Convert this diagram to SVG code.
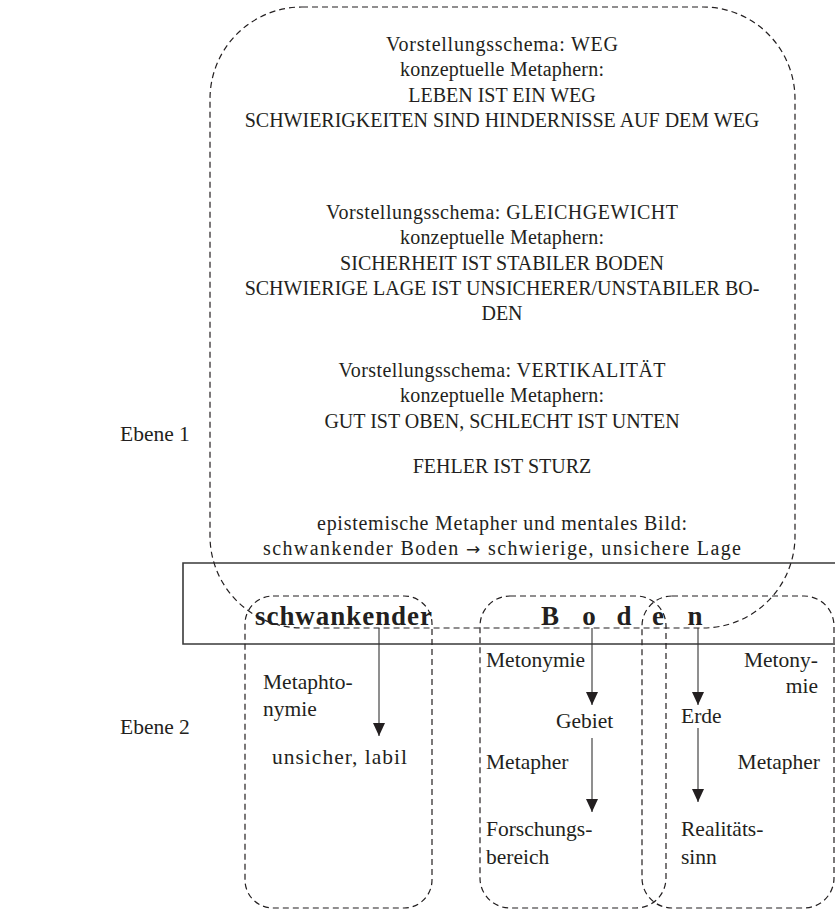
<svg xmlns="http://www.w3.org/2000/svg" width="835" height="909" viewBox="0 0 835 909">
  <style>
    text { font-family: "Liberation Serif", "Times New Roman", serif; fill: #231f20; }
    .t { font-size: 20px; text-anchor: middle; }
    .lbl { font-size: 21.5px; }
    .side { font-size: 21.5px; }
    .word { font-size: 27px; font-weight: bold; }
    .sym { font-family: "DejaVu Sans", sans-serif; font-size: 17px; }
    .dash { fill: none; stroke: #231f20; stroke-width: 1.2; stroke-dasharray: 6 4; }
    .frame { fill: none; stroke: #3a3a3a; stroke-width: 1.6; }
    .arrow { stroke: #333; stroke-width: 1.1; fill: none; marker-end: url(#head); }
  </style>
  <defs>
    <!-- filled triangular arrowhead, tip at the end of the line -->
    <marker id="head" markerUnits="userSpaceOnUse" markerWidth="13" markerHeight="12" viewBox="0 0 13 12" refX="13" refY="6" orient="auto">
      <path d="M0,0 L13,6 L0,12 Z" fill="#231f20"/>
    </marker>
  </defs>

  <rect width="835" height="909" fill="#ffffff"/>

  <!-- level labels -->
  <g id="levels">
    <text class="side" x="120" y="441">Ebene 1</text>
    <text class="side" x="120" y="734">Ebene 2</text>
  </g>

  <!-- word row frame -->
  <g id="word-frame">
    <path class="frame" d="M840,563 L183,563 L183,644 L840,644"/>
  </g>

  <!-- level 1: schemas and metaphors -->
  <g id="level1">
    <rect class="dash" x="210" y="7" width="585" height="621" rx="92" ry="92"/>
    <text class="t" x="502" y="51" textLength="232" lengthAdjust="spacing">Vorstellungsschema: WEG</text>
    <text class="t" x="502" y="76" textLength="204" lengthAdjust="spacing">konzeptuelle Metaphern:</text>
    <text class="t" x="502" y="102">LEBEN IST EIN WEG</text>
    <text class="t" x="502" y="127">SCHWIERIGKEITEN SIND HINDERNISSE AUF DEM WEG</text>

    <text class="t" x="502" y="219" textLength="352" lengthAdjust="spacing">Vorstellungsschema: GLEICHGEWICHT</text>
    <text class="t" x="502" y="244" textLength="204" lengthAdjust="spacing">konzeptuelle Metaphern:</text>
    <text class="t" x="502" y="270">SICHERHEIT IST STABILER BODEN</text>
    <text class="t" x="502" y="295">SCHWIERIGE LAGE IST UNSICHERER/UNSTABILER BO-</text>
    <text class="t" x="502" y="320">DEN</text>

    <text class="t" x="502" y="377" textLength="327" lengthAdjust="spacing">Vorstellungsschema: VERTIKALITÄT</text>
    <text class="t" x="502" y="402" textLength="204" lengthAdjust="spacing">konzeptuelle Metaphern:</text>
    <text class="t" x="502" y="428">GUT IST OBEN, SCHLECHT IST UNTEN</text>

    <text class="t" x="502" y="473">FEHLER IST STURZ</text>

    <text class="t" x="502" y="530" textLength="370" lengthAdjust="spacing">epistemische Metapher und mentales Bild:</text>
    <text class="t" x="502" y="555" textLength="478" lengthAdjust="spacing">schwankender Boden <tspan class="sym">→</tspan> schwierige, unsichere Lage</text>
  </g>

  <!-- the phrase itself -->
  <g id="phrase">
    <text class="word" x="255" y="625" textLength="177" lengthAdjust="spacing">schwankender</text>
    <text class="word" x="550" y="625" text-anchor="middle">B</text>
    <text class="word" x="589" y="625" text-anchor="middle">o</text>
    <text class="word" x="624" y="625" text-anchor="middle">d</text>
    <text class="word" x="658" y="625" text-anchor="middle">e</text>
    <text class="word" x="695" y="625" text-anchor="middle">n</text>
  </g>

  <!-- level 2: schwankender -->
  <g id="box-schwankender">
    <rect class="dash" x="245" y="596" width="187" height="312" rx="28" ry="28"/>
    <text class="lbl" x="263" y="689">Metaphto-</text>
    <text class="lbl" x="263" y="716">nymie</text>
    <text class="lbl" x="272" y="764" textLength="135" lengthAdjust="spacing">unsicher, labil</text>
  </g>

  <!-- level 2: Boden (Gebiet) -->
  <g id="box-boden">
    <rect class="dash" x="480" y="596" width="186" height="312" rx="30" ry="30"/>
    <text class="lbl" x="486" y="667">Metonymie</text>
    <text class="lbl" x="556" y="728">Gebiet</text>
    <text class="lbl" x="486" y="769">Metapher</text>
    <text class="lbl" x="486" y="836">Forschungs-</text>
    <text class="lbl" x="486" y="864">bereich</text>
  </g>

  <!-- level 2: Boden (Erde) -->
  <g id="box-erde">
    <rect class="dash" x="642" y="596" width="192" height="312" rx="30" ry="30"/>
    <text class="lbl" x="818" y="667" text-anchor="end">Metony-</text>
    <text class="lbl" x="818" y="693" text-anchor="end">mie</text>
    <text class="lbl" x="681" y="723">Erde</text>
    <text class="lbl" x="820" y="769" text-anchor="end">Metapher</text>
    <text class="lbl" x="681" y="836">Realitäts-</text>
    <text class="lbl" x="681" y="864">sinn</text>
  </g>

  <!-- connectors -->
  <g id="connectors">
    <line class="arrow" x1="379" y1="628" x2="379" y2="736"/>
    <line class="arrow" x1="592" y1="628" x2="592" y2="705"/>
    <line class="arrow" x1="592" y1="738" x2="592" y2="812"/>
    <line class="arrow" x1="698" y1="628" x2="698" y2="705"/>
    <line class="arrow" x1="698" y1="728" x2="698" y2="802"/>
  </g>
</svg>
